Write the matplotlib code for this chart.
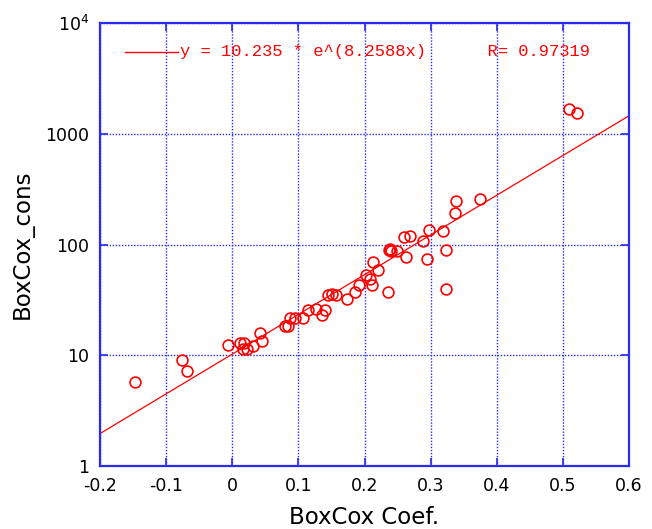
import numpy as np
import matplotlib
matplotlib.use('Agg')
import matplotlib.pyplot as plt
from matplotlib import font_manager
from matplotlib.ticker import FixedLocator, NullLocator

# measured points (BoxCox coef, BoxCox cons)
coef = [-0.147, -0.076, -0.068, -0.007, 0.012, 0.018, 0.017, 0.022, 0.032,
        0.042, 0.045, 0.080, 0.085, 0.087, 0.095, 0.107, 0.115, 0.126,
        0.135, 0.140, 0.145, 0.151, 0.157, 0.173, 0.186, 0.191, 0.203,
        0.208, 0.211, 0.213, 0.221, 0.236, 0.237, 0.239, 0.240, 0.249,
        0.259, 0.269, 0.263, 0.288, 0.294, 0.297, 0.319, 0.324, 0.324,
        0.337, 0.338, 0.375, 0.510, 0.521]
cons = [5.74, 9.15, 7.21, 12.5, 13.0, 13.0, 11.3, 11.3, 12.1,
        15.9, 13.4, 18.4, 18.4, 21.5, 21.5, 21.5, 25.5, 26.4,
        23.3, 25.5, 35.2, 35.9, 35.2, 32.5, 37.3, 42.9, 52.8,
        49.3, 42.9, 69.6, 59.4, 37.3, 89.0, 91.0, 87.0, 87.5,
        115.7, 118.9, 77.3, 107.1, 74.7, 134.6, 133.3, 89.8, 39.3,
        193.0, 247.7, 260.0, 1658.0, 1545.0]

# fit shown in the legend
fit_a = 10.235
fit_b = 8.2588
fit_r = 0.97319

xticks = [-0.2, -0.1, 0, 0.1, 0.2, 0.3, 0.4, 0.5, 0.6]
xticklabels = ['-0.2', '-0.1', '0', '0.1', '0.2', '0.3', '0.4', '0.5', '0.6']
yticks = [1, 10, 100, 1000, 10000]
yticklabels = ['1', '10', '100', '1000', r'$10^4$']

names = set(f.name for f in font_manager.fontManager.ttflist)
if 'Liberation Sans Narrow' in names:
    plt.rcParams['font.family'] = ['Liberation Sans Narrow', 'DejaVu Sans']
else:
    plt.rcParams['font.family'] = ['DejaVu Sans']
blue = '#2a2af0'

fig = plt.figure(figsize=(6.52, 5.29), dpi=100)
ax = fig.add_axes([0.1534, 0.1191, 0.8113, 0.8374])

ax.set_yscale('log')
ax.set_xlim(-0.2, 0.6)
ax.set_ylim(1, 10000)

xf = np.linspace(-0.2, 0.6, 200)
ax.plot(xf, fit_a * np.exp(fit_b * xf), color='red', linewidth=0.9)
ax.plot(coef, cons, linestyle='none', marker='o', markersize=7.8,
        markerfacecolor='none', markeredgecolor='red', markeredgewidth=1.2)

ax.xaxis.set_major_locator(FixedLocator(xticks))
ax.set_xticklabels(xticklabels)
ax.yaxis.set_major_locator(FixedLocator(yticks))
ax.yaxis.set_minor_locator(NullLocator())
ax.set_yticklabels(yticklabels)

ax.grid(True, color=blue, linestyle=(0, (1, 1.2)), linewidth=1.0)
for s in ax.spines.values():
    s.set_color(blue)
    s.set_linewidth(1.6)
ax.tick_params(which='both', direction='in', length=6, width=1.2, color=blue,
               top=True, right=True, labelsize=12.5, pad=8)

ax.set_xlabel('BoxCox Coef.', fontsize=16.5, labelpad=8)
ax.set_ylabel('BoxCox_cons', fontsize=16.5, labelpad=8)

# legend drawn as line + text
ax.plot([0.048, 0.148], [0.935, 0.935], transform=ax.transAxes,
        color='red', linewidth=1.0, clip_on=False)
ax.text(0.152, 0.935, 'y = %.3f * e^(%.4fx)      R= %.5f' % (fit_a, fit_b, fit_r),
        transform=ax.transAxes, color='red', fontsize=12.3,
        family=['Liberation Mono', 'DejaVu Sans Mono'], va='center', ha='left')

plt.savefig('out.png', dpi=100)
